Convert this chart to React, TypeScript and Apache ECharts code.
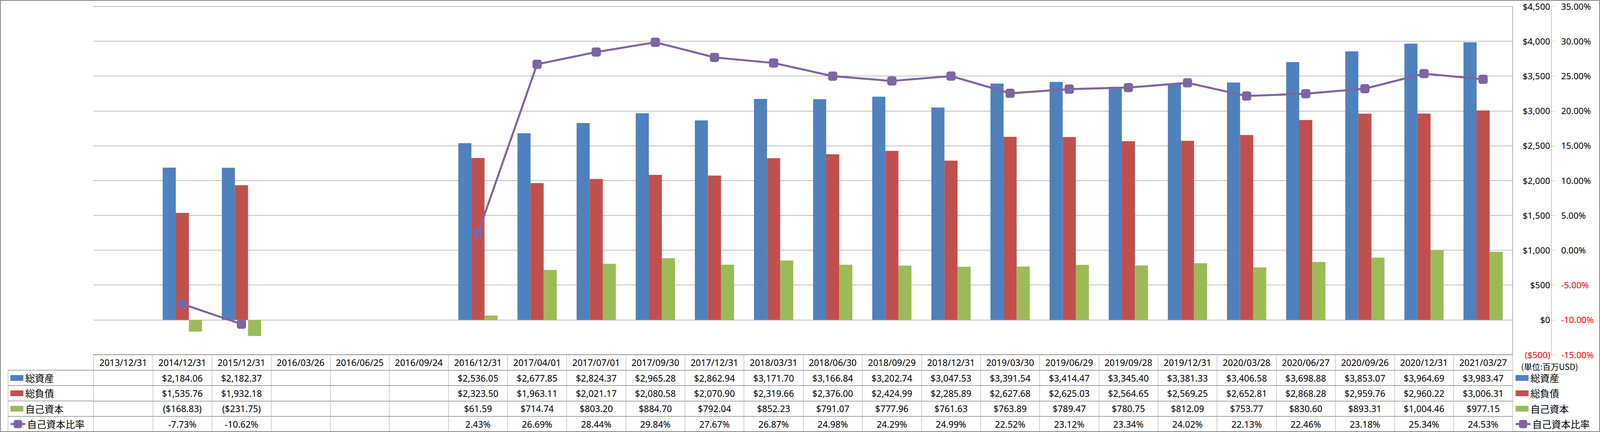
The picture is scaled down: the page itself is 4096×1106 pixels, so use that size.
import React, { useEffect, useRef } from 'react';
import * as echarts from 'echarts';

// ---------------- data ----------------
const categories = [
  '2013/12/31', '2014/12/31', '2015/12/31', '2016/03/26', '2016/06/25', '2016/09/24',
  '2016/12/31', '2017/04/01', '2017/07/01', '2017/09/30', '2017/12/31', '2018/03/31',
  '2018/06/30', '2018/09/29', '2018/12/31', '2019/03/30', '2019/06/29', '2019/09/28',
  '2019/12/31', '2020/03/28', '2020/06/27', '2020/09/26', '2020/12/31', '2021/03/27',
];

const totalAssets: (number | null)[] = [
  null, 2184.06, 2182.37, null, null, null,
  2536.05, 2677.85, 2824.37, 2965.28, 2862.94, 3171.70,
  3166.84, 3202.74, 3047.53, 3391.54, 3414.47, 3345.40,
  3381.33, 3406.58, 3698.88, 3853.07, 3964.69, 3983.47,
];

const totalLiabilities: (number | null)[] = [
  null, 1535.76, 1932.18, null, null, null,
  2323.50, 1963.11, 2021.17, 2080.58, 2070.90, 2319.66,
  2376.00, 2424.99, 2285.89, 2627.68, 2625.03, 2564.65,
  2569.25, 2652.81, 2868.28, 2959.76, 2960.22, 3006.31,
];

const equity: (number | null)[] = [
  null, -168.83, -231.75, null, null, null,
  61.59, 714.74, 803.20, 884.70, 792.04, 852.23,
  791.07, 777.96, 761.63, 763.89, 789.47, 780.75,
  812.09, 753.77, 830.60, 893.31, 1004.46, 977.15,
];

const equityRatio: (number | null)[] = [
  null, -7.73, -10.62, null, null, null,
  2.43, 26.69, 28.44, 29.84, 27.67, 26.87,
  24.98, 24.29, 24.99, 22.52, 23.12, 23.34,
  24.02, 22.13, 22.46, 23.18, 25.34, 24.53,
];

const seriesNames = ['総資産', '総負債', '自己資本', '自己資本比率'];
const seriesColors = ['#4F81BD', '#C0504D', '#9BBB59', '#8064A2'];

const dollarAxis = { min: -500, max: 4500, interval: 500 };
const ratioAxis = { min: -15, max: 35, interval: 5 };
const unitNote = '(単位:百万USD)';

// ---------------- layout helpers ----------------
const W = 4096;
const H = 1106;
const S = W / 5553;
const s = (v: number) => v * S;

const GL = s(325);
const GR = s(5250);
const GT = s(22);
const GB = s(1231);
const HEAD = s(54);
const ROW = s(53.4);

const lineGray = '#868686';
const vGray = '#a6a6a6';
const green = '#00E000';

const fmtMoney = (v: number | null) => {
  if (v === null || v === undefined) return '';
  const t = '$' + Math.abs(v).toLocaleString('en-US', { minimumFractionDigits: 2, maximumFractionDigits: 2 });
  return v < 0 ? `(${t})` : t;
};
const fmtPct = (v: number | null) => (v === null || v === undefined ? '' : v.toFixed(2) + '%');
const fmtAxisMoney = (v: number) => {
  const t = '$' + Math.abs(v).toLocaleString('en-US');
  return v < 0 ? `(${t})` : t;
};

const tableFont = { fontFamily: 'Noto Sans', fontSize: 23, color: '#000' };

const rowAxis = (offset: number, height: number, formatter: (v: string, i: number) => string) => ({
  type: 'category',
  data: categories,
  gridIndex: 0,
  position: 'bottom',
  offset,
  boundaryGap: true,
  axisLine: { show: true, onZero: false, lineStyle: { color: lineGray, width: 1.5 } },
  axisTick: { show: true, interval: 0, length: height, lineStyle: { color: vGray, width: 1 } },
  axisLabel: {
    show: true,
    interval: 0,
    margin: height / 2,
    verticalAlign: 'middle',
    formatter,
    ...tableFont,
  },
  splitLine: { show: false },
});

const rowValues = [
  (i: number) => fmtMoney(totalAssets[i]),
  (i: number) => fmtMoney(totalLiabilities[i]),
  (i: number) => fmtMoney(equity[i]),
  (i: number) => fmtPct(equityRatio[i]),
];

const legendText = { fontFamily: 'Noto Sans CJK JP', fontSize: 24.5, color: '#000', lineHeight: ROW };

const barLegend = (left: number) => ({
  orient: 'vertical',
  left,
  top: GB + HEAD,
  padding: 0,
  itemGap: 0,
  itemWidth: s(45),
  itemHeight: s(20),
  selectedMode: false,
  textStyle: legendText,
  data: [
    { name: seriesNames[0], icon: 'rect' },
    { name: seriesNames[1], icon: 'rect' },
    { name: seriesNames[2], icon: 'rect' },
  ],
});

const lineLegend = (left: number) => ({
  orient: 'vertical',
  left,
  top: GB + HEAD + 3 * ROW,
  padding: 0,
  itemGap: 0,
  itemWidth: s(51),
  itemHeight: s(36),
  selectedMode: false,
  textStyle: legendText,
  data: [{ name: seriesNames[3], lineStyle: { width: s(7) } }],
});

export default function App() {
  const ref = useRef<HTMLDivElement>(null);

  useEffect(() => {
    if (!ref.current) return;
    const chart = echarts.init(ref.current, null, { renderer: 'svg' });

    const tableLines: any[] = [];
    const tableTop = GB + HEAD;
    for (let i = 0; i <= 4; i++) {
      const y = tableTop + i * ROW;
      tableLines.push({
        type: 'line',
        shape: { x1: s(28), y1: y, x2: GL, y2: y },
        style: { stroke: lineGray, lineWidth: 1.5 },
        silent: true,
      });
    }
    tableLines.push({
      type: 'line',
      shape: { x1: s(28), y1: tableTop, x2: s(28), y2: tableTop + 4 * ROW },
      style: { stroke: vGray, lineWidth: 1 },
      silent: true,
    });

    const option: any = {
      animation: false,
      backgroundColor: '#ffffff',
      grid: { left: GL, right: W - GR, top: GT, bottom: H - GB, containLabel: false },
      legend: [
        barLegend(s(36)),
        lineLegend(s(33)),
        barLegend(s(5260)),
        lineLegend(s(5257)),
      ],
      xAxis: [
        rowAxis(0, HEAD, (v: string) => v),
        ...rowValues.map((f, k) => rowAxis(HEAD + k * ROW, ROW, (_v: string, i: number) => f(i))),
      ],
      yAxis: [
        {
          type: 'value',
          position: 'right',
          ...dollarAxis,
          axisLine: { show: true, lineStyle: { color: lineGray, width: 1.2 } },
          axisTick: { show: false },
          splitLine: { show: true, lineStyle: { color: lineGray, width: 1.2 } },
          axisLabel: {
            margin: s(5380 - 5250),
            align: 'right',
            fontFamily: 'Noto Sans',
            fontSize: 22.5,
            color: (v: any) => (Number(v) < 0 ? '#FF0000' : '#000000'),
            formatter: fmtAxisMoney,
          },
        },
        {
          type: 'value',
          position: 'right',
          offset: s(5384 - 5250),
          ...ratioAxis,
          axisLine: { show: true, lineStyle: { color: green, width: 1, type: [3, 2] } },
          axisTick: { show: true, length: s(12), lineStyle: { color: green, width: 1, type: [3, 2] } },
          splitLine: { show: false },
          axisLabel: {
            margin: s(5418 - 5384),
            align: 'left',
            fontFamily: 'Noto Sans',
            fontSize: 22.5,
            color: (v: any) => (Number(v) < 0 ? '#FF0000' : '#000000'),
            formatter: (v: number) => v.toFixed(2) + '%',
          },
        },
      ],
      series: [
        {
          name: seriesNames[0], type: 'bar', data: totalAssets,
          itemStyle: { color: seriesColors[0] }, barGap: '0%', barCategoryGap: '33.6%',
        },
        {
          name: seriesNames[1], type: 'bar', data: totalLiabilities,
          itemStyle: { color: seriesColors[1] }, barGap: '0%', barCategoryGap: '33.6%',
        },
        {
          name: seriesNames[2], type: 'bar', data: equity,
          itemStyle: { color: seriesColors[2] }, barGap: '0%', barCategoryGap: '33.6%',
        },
        {
          name: seriesNames[3], type: 'line', yAxisIndex: 1, data: equityRatio,
          symbol: 'roundRect', symbolSize: s(32), connectNulls: false, z: 10,
          lineStyle: { width: s(7), color: seriesColors[3] },
          itemStyle: { color: seriesColors[3] },
        },
      ],
      graphic: [
        ...tableLines,
        {
          type: 'text',
          x: s(5279),
          y: s(1271),
          style: {
            text: unitNote,
            fontFamily: 'Noto Sans CJK JP',
            fontSize: 21,
            fill: '#000',
            verticalAlign: 'middle',
          },
          silent: true,
        },
        {
          type: 'rect',
          shape: { x: 1, y: 1, width: W - 2, height: H - 2 },
          style: { fill: 'none', stroke: lineGray, lineWidth: 2 },
          silent: true,
          z: 100,
        },
      ],
    };

    chart.setOption(option);
    return () => chart.dispose();
  }, []);

  return (
    <div
      ref={ref}
      style={{ position: 'absolute', left: 0, top: 0, width: W, height: H, background: '#fff' }}
    />
  );
}
